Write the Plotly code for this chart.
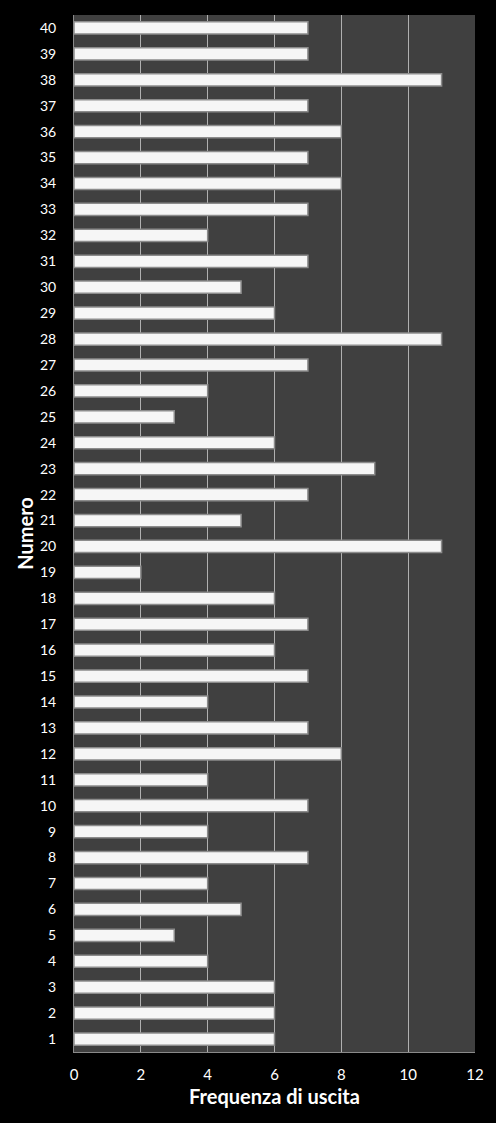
import plotly.graph_objects as go

numeri = [str(n) for n in range(1, 41)]
frequenze = [6, 6, 6, 4, 3, 5, 4, 7, 4, 7,
             4, 8, 7, 4, 7, 6, 7, 6, 2, 11,
             5, 7, 9, 6, 3, 4, 7, 11, 6, 5,
             7, 4, 7, 8, 7, 8, 7, 11, 7, 7]
x_ticks = [0, 2, 4, 6, 8, 10, 12]

fig = go.Figure()
fig.add_trace(go.Bar(
    x=frequenze, y=numeri, orientation='h',
    marker=dict(color='#f6f6f6', line=dict(color='#8c8c8c', width=1.5)),
    hoverinfo='x+y'))

fig.update_layout(
    width=496, height=1123,
    paper_bgcolor='black', plot_bgcolor='#404040',
    margin=dict(l=74, r=19, t=15, b=71),
    bargap=0.53, showlegend=False,
    font=dict(family='Lato, Open Sans, sans-serif', color='white', size=14))

fig.update_xaxes(
    range=[0, 12], tickvals=x_ticks, showgrid=True, gridcolor='#b0b0b0', gridwidth=1,
    zeroline=False, showline=True, linecolor='#8a8a8a', linewidth=1,
    ticks='outside', ticklen=9, tickcolor='rgba(0,0,0,0)',
    tickfont=dict(size=15),
    title=dict(text='<b>Frequenza di uscita</b>', font=dict(size=20), standoff=7))
fig.update_yaxes(
    type='category', categoryorder='array', categoryarray=numeri,
    showgrid=False, zeroline=False, showline=True, linecolor='#8a8a8a', linewidth=1,
    ticks='outside', ticklen=14, tickcolor='rgba(0,0,0,0)',
    range=[-0.5, 39.5],
    title=dict(text='<b>Numero</b>', font=dict(size=20), standoff=0))

# remove the default page margin so the figure fills the window
fig.write_html("out.html", config={'displayModeBar': False},
               post_script="document.body.style.margin='0px';document.body.style.background='black';")
